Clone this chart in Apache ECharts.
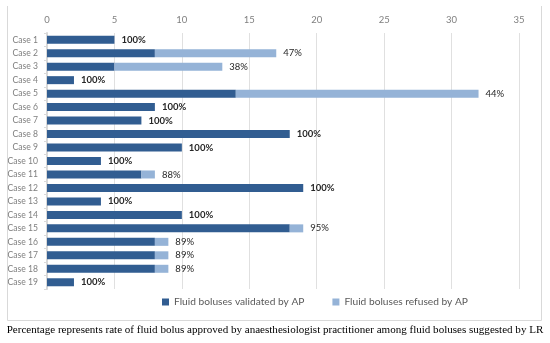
<!DOCTYPE html>
<html>
<head>
<meta charset="utf-8">
<script src="https://cdn.jsdelivr.net/npm/echarts@6/dist/echarts.min.js"></script>
<style>
html,body{margin:0;padding:0;background:#fff;}
#c{width:550px;height:343px;}
</style>
</head>
<body>
<div id="c"></div>
<script>
var categories = ['Case 1','Case 2','Case 3','Case 4','Case 5','Case 6','Case 7','Case 8','Case 9','Case 10','Case 11','Case 12','Case 13','Case 14','Case 15','Case 16','Case 17','Case 18','Case 19'];
var validated = [5, 8, 5, 2, 14, 8, 7, 18, 10, 4, 7, 19, 4, 10, 18, 8, 8, 8, 2];
var refused   = [0, 9, 8, 0, 18, 0, 0, 0, 0, 0, 1, 0, 0, 0, 1, 1, 1, 1, 0];
var pctLabels = ['100%','47%','38%','100%','44%','100%','100%','100%','100%','100%','88%','100%','100%','100%','95%','89%','89%','89%','100%'];
var xTicks = [0, 5, 10, 15, 20, 25, 30, 35];
var seriesNames = ['Fluid boluses validated by AP', 'Fluid boluses refused by AP'];
var caption = 'Percentage represents rate of fluid bolus approved by anaesthesiologist practitioner among fluid boluses suggested by LR';

var chart = echarts.init(document.getElementById('c'), null, {renderer: 'canvas'});
var refusedData = refused.map(function (v, i) {
  return {
    value: v,
    label: {
      show: true,
      position: 'right',
      distance: 7,
      formatter: pctLabels[i],
      color: '#262626',
      fontSize: 9.5,
      fontWeight: pctLabels[i] === '100%' ? 'bold' : 'normal',
      fontFamily: 'Lato'
    }
  };
});

chart.setOption({
  animation: false,
  backgroundColor: '#fff',
  graphic: [
    {type: 'line', shape: {x1: 7.5, y1: 6, x2: 7.5, y2: 320.5}, style: {stroke: '#d9d9d9', lineWidth: 1}, silent: true},
    {type: 'line', shape: {x1: 541.5, y1: 6, x2: 541.5, y2: 320.5}, style: {stroke: '#d9d9d9', lineWidth: 1}, silent: true},
    {type: 'line', shape: {x1: 7.5, y1: 320.5, x2: 541.5, y2: 320.5}, style: {stroke: '#d9d9d9', lineWidth: 1}, silent: true},
    {type: 'text', left: 'center', top: 325, style: {text: caption, fontFamily: 'Liberation Serif', fontSize: 11.05, fill: '#000'}}
  ],
  grid: {left: 47, right: 31, top: 33, height: 256, containLabel: false},
  legend: {
    data: seriesNames,
    top: 292,
    left: 157,
    itemWidth: 7,
    itemHeight: 7,
    itemGap: 28,
    icon: 'rect',
    textStyle: {color: '#595959', fontSize: 10.2, fontFamily: 'Lato'}
  },
  xAxis: {
    type: 'value',
    position: 'top',
    min: xTicks[0],
    max: xTicks[xTicks.length - 1],
    interval: 5,
    axisLine: {show: false},
    axisTick: {show: false},
    axisLabel: {color: '#7f7f7f', fontSize: 9.5, margin: 8, fontFamily: 'Lato'},
    splitLine: {show: true, lineStyle: {color: '#e0e0e0', width: 1}}
  },
  yAxis: {
    type: 'category',
    data: categories,
    inverse: true,
    axisLine: {show: true, lineStyle: {color: '#d9d9d9', width: 2}},
    axisTick: {show: true, length: 3, lineStyle: {color: '#d9d9d9'}},
    axisLabel: {color: '#7f7f7f', fontSize: 8.6, margin: 9, fontFamily: 'Lato'}
  },
  series: [
    {
      name: seriesNames[0],
      type: 'bar',
      stack: 'total',
      data: validated,
      barWidth: 8,
      itemStyle: {color: '#315d91'}
    },
    {
      name: seriesNames[1],
      type: 'bar',
      stack: 'total',
      data: refusedData,
      barWidth: 8,
      itemStyle: {color: '#95b3d7'}
    }
  ]
});
</script>
</body>
</html>
